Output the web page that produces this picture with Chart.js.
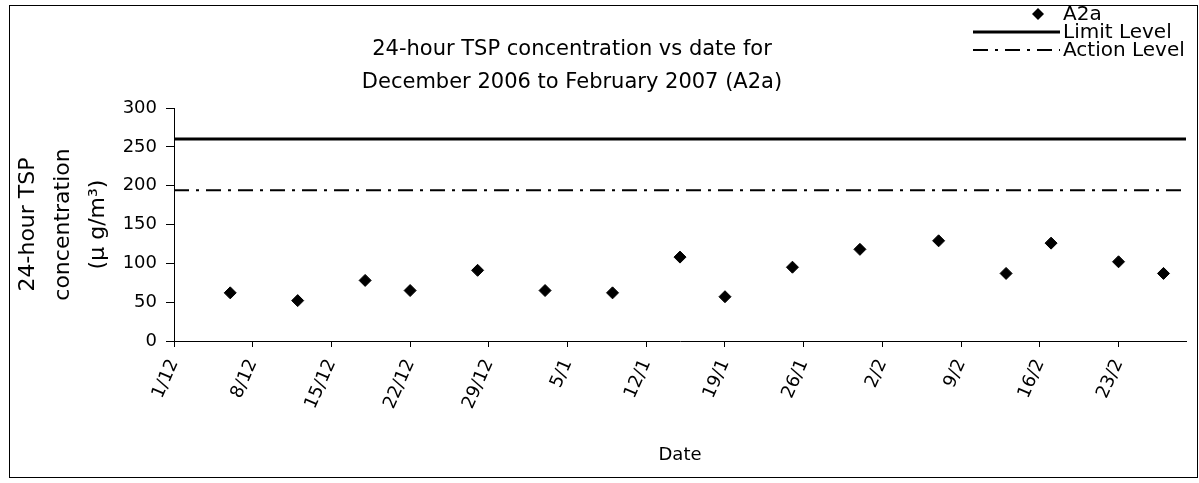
<!DOCTYPE html>
<html><head><meta charset="utf-8">
<script src="https://cdn.jsdelivr.net/npm/chart.js@4/dist/chart.umd.min.js"></script>
<style>html,body{margin:0;padding:0;background:#fff;}#wrap{width:1199px;height:483px;}</style>
</head><body><div id="wrap"><canvas id="c" width="1199" height="483"></canvas></div>
<script>
// ---- data ----
const sampleDates = ['6/12','12/12','18/12','22/12','28/12','3/1','9/1','15/1','19/1','25/1','31/1','7/2','13/2','17/2','23/2','27/2'];
const a2aValues   = [62, 52, 78, 65, 91, 65, 62, 108, 57, 95, 118, 129, 87, 126, 102, 87];
const limitLevel  = 260;
const actionLevel = 194;
const axisStartDate = '1/12';
const axisEndDate   = '1/3';
const xTickLabels = ['1/12','8/12','15/12','22/12','29/12','5/1','12/1','19/1','26/1','2/2','9/2','16/2','23/2'];
const yTickValues = [0, 50, 100, 150, 200, 250, 300];
const titleLines  = ['24-hour TSP concentration vs date for', 'December 2006 to February 2007 (A2a)'];
const yAxisTitle  = ['24-hour TSP', 'concentration', '(\u03bc g/m\u00b3)'];
const xAxisTitle  = 'Date';
const seriesNames = ['A2a', 'Limit Level', 'Action Level'];

// day offset from 1 Dec 2006
function dayOf(s){
  const [d,m] = s.split('/').map(Number);
  const monthStart = {12:0, 1:31, 2:62, 3:90};
  return monthStart[m] + d - 1;
}
const xMin = dayOf(axisStartDate), xMax = dayOf(axisEndDate);
const tickDays = xTickLabels.map(dayOf);
const labelByDay = {}; xTickLabels.forEach(l => labelByDay[dayOf(l)] = l);

const FONT = 'DejaVu Sans';

const framePlugin = {
  id: 'decor',
  afterDraw(chart){
    const ctx = chart.ctx;
    ctx.save();
    // frame
    ctx.strokeStyle = '#000'; ctx.lineWidth = 1;
    ctx.strokeRect(9.5, 5.5, 1188, 472);
    // title
    ctx.fillStyle = '#000';
    ctx.font = '21px "' + FONT + '"';
    ctx.textAlign = 'center'; ctx.textBaseline = 'middle';
    titleLines.forEach((t,i) => ctx.fillText(t, 572, 50 + i*33));
    // legend
    const ds = chart.data.datasets;
    const x0 = 973, x1 = 1060, tx = 1063;
    const rows = [14, 32, 50];
    ctx.font = '20px "' + FONT + '"';
    ctx.textAlign = 'left';
    ds.forEach((d,i) => {
      const y = rows[i];
      if (i === 0) {
        const cx = 1038, r = 6;
        ctx.beginPath();
        ctx.moveTo(cx, y - r); ctx.lineTo(cx + r, y); ctx.lineTo(cx, y + r); ctx.lineTo(cx - r, y);
        ctx.closePath(); ctx.fillStyle = '#000'; ctx.fill();
      } else {
        ctx.beginPath();
        ctx.setLineDash(d.borderDash || []);
        ctx.lineWidth = d.borderWidth; ctx.strokeStyle = d.borderColor;
        ctx.moveTo(x0, y); ctx.lineTo(x1, y); ctx.stroke();
        ctx.setLineDash([]);
      }
      ctx.fillStyle = '#000';
      ctx.fillText(d.label, tx, y + 1);
    });
    ctx.restore();
  }
};

new Chart(document.getElementById('c'), {
  type: 'scatter',
  data: {
    datasets: [
      {
        label: seriesNames[0],
        data: sampleDates.map((d,i) => ({x: dayOf(d), y: a2aValues[i]})),
        pointStyle: 'rectRot', pointRadius: 6, pointHoverRadius: 6,
        backgroundColor: '#000', borderColor: '#000', borderWidth: 1, showLine: false
      },
      {
        label: seriesNames[1],
        data: [{x: xMin, y: limitLevel}, {x: xMax, y: limitLevel}],
        showLine: true, borderColor: '#000', borderWidth: 3, pointRadius: 0, fill: false
      },
      {
        label: seriesNames[2],
        data: [{x: xMin, y: actionLevel}, {x: xMax, y: actionLevel}],
        showLine: true, borderColor: '#000', borderWidth: 2, borderDash: [15, 7, 3, 7], pointRadius: 0, fill: false
      }
    ]
  },
  options: {
    responsive: false, animation: false, devicePixelRatio: 1,
    layout: { padding: { left: 0, right: 13, top: 108, bottom: 0 } },
    plugins: { legend: { display: false }, title: { display: false }, tooltip: { enabled: false } },
    scales: {
      x: {
        type: 'linear', min: xMin, max: xMax,
        afterBuildTicks: s => { s.ticks = tickDays.map(v => ({value: v})); },
        afterFit: s => { s.height = 483 - 341; },
        ticks: {
          callback: v => labelByDay[v] ?? '',
          maxRotation: 66, minRotation: 66, autoSkip: false,
          font: { family: FONT, size: 18 }, color: '#000', padding: 9
        },
        grid: { drawOnChartArea: false, drawTicks: true, tickLength: 6, color: '#000' },
        border: { display: true, color: '#000', width: 1 },
        title: { display: true, text: xAxisTitle, font: { family: FONT, size: 18 }, color: '#000', padding: { top: 0, bottom: 17 } }
      },
      y: {
        min: 0, max: 300,
        afterBuildTicks: s => { s.ticks = yTickValues.map(v => ({value: v})); },
        afterFit: s => { s.width = 174; },
        ticks: { font: { family: FONT, size: 18 }, color: '#000', padding: 9 },
        grid: { drawOnChartArea: false, drawTicks: true, tickLength: 8, color: '#000' },
        border: { display: true, color: '#000', width: 1 },
        title: { display: true, text: yAxisTitle, font: { family: FONT, size: 22, lineHeight: 35/22 }, color: '#000', padding: { top: 10.5, bottom: 0 } }
      }
    }
  },
  plugins: [framePlugin]
});
</script></body></html>
